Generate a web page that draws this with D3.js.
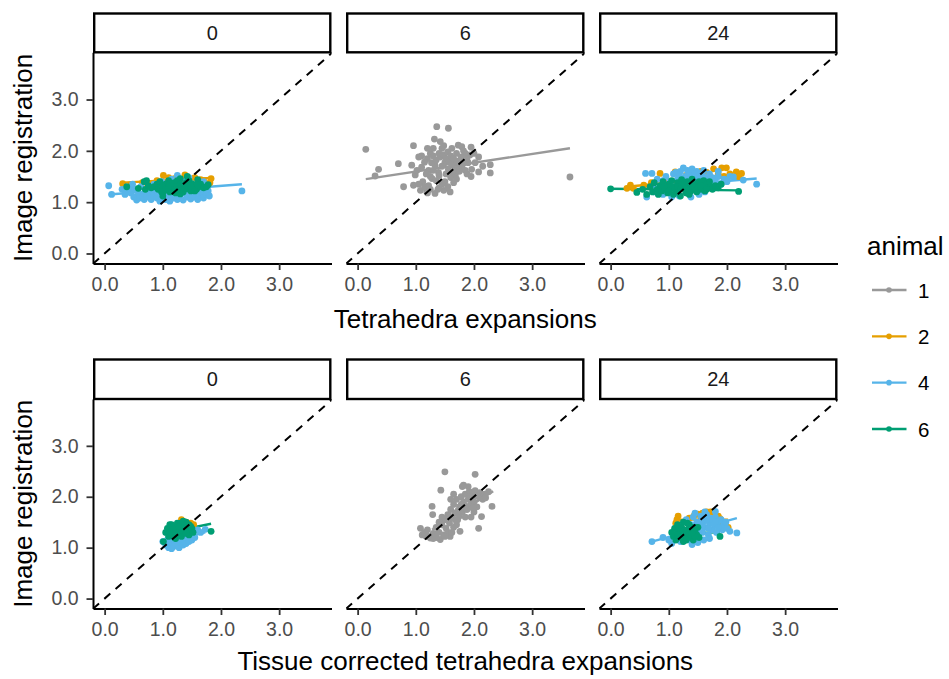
<!DOCTYPE html>
<html>
<head>
<meta charset="utf-8">
<script src="https://cdn.jsdelivr.net/npm/d3@7"></script>
<style>
  html, body { margin: 0; padding: 0; background: #ffffff; }
  svg { display: block; font-family: "Liberation Sans", Arial, sans-serif; }
</style>
</head>
<body>
<svg id="chart" width="949" height="679"></svg>
<script>
// ---- data -------------------------------------------------------------
const timepoints = ["0", "6", "24"];
const animals = ["1", "2", "4", "6"];
const animalColors = ["#999999", "#E69F00", "#56B4E9", "#009E73"];
const tickValues = [0, 1, 2, 3];
const rowTitles = ["Tetrahedra expansions", "Tissue corrected tetrahedra expansions"];
const yTitle = "Image registration";
const legendTitle = "animal";

// Tetrahedra expansions vs image registration, hour 0
const tet0_a2 = [[0.31,1.36],[0.45,1.33],[1.01,1.52],[1.38,1.53],[1.83,1.46],[1.81,1.38],[1.7,1.42],[1.2,1.46],[0.65,1.38],[1.55,1.48],[0.9,1.42],[1.45,1.45],[1.1,1.48],[1.65,1.44],[0.8,1.36],[1.3,1.45]];
const tet0_a4 = [[0.07,1.32],[0.12,1.15],[2.36,1.22],[0.38,1.22],[0.42,1.28],[0.45,1.18],[0.5,1.1],[0.52,1.25],[0.55,1.04],[0.58,1.15],[0.6,1.08],[0.62,1.3],[0.65,1.12],[0.68,1.05],[0.7,1.2],[0.72,1.1],[0.75,1.28],[0.78,1.15],[0.8,1.05],[0.82,1.22],[0.85,1.12],[0.88,1.3],[0.9,1.08],[0.92,1.18],[0.95,1.02],[0.97,1.25],[1.0,1.1],[1.02,1.35],[1.05,1.05],[1.08,1.2],[1.1,1.12],[1.12,1.02],[1.15,1.28],[1.18,1.08],[1.2,1.4],[1.22,1.15],[1.25,1.52],[1.25,1.05],[1.28,1.22],[1.3,1.1],[1.32,1.3],[1.35,1.04],[1.38,1.18],[1.4,1.42],[1.42,1.1],[1.45,1.25],[1.48,1.06],[1.5,1.15],[1.52,1.35],[1.55,1.1],[1.58,1.2],[1.6,1.05],[1.62,1.28],[1.65,1.12],[1.68,1.18],[1.7,1.08],[1.72,1.3],[1.75,1.15],[1.78,1.22],[1.8,1.12],[1.15,1.45],[0.98,1.4],[1.45,1.48],[0.85,1.35],[1.7,1.4],[0.48,1.35],[0.3,1.25],[0.35,1.15]];
const tet0_a6 = [[0.38,1.3],[0.58,1.27],[0.68,1.4],[0.72,1.42],[0.7,1.25],[0.75,1.32],[0.85,1.3],[0.9,1.35],[0.92,1.25],[0.95,1.4],[1.0,1.12],[1.0,1.3],[1.02,1.22],[1.05,1.35],[1.08,1.28],[1.1,1.42],[1.12,1.2],[1.15,1.32],[1.18,1.25],[1.2,1.38],[1.22,1.18],[1.25,1.3],[1.28,1.24],[1.3,1.46],[1.32,1.28],[1.35,1.2],[1.38,1.35],[1.4,1.26],[1.42,1.5],[1.45,1.3],[1.48,1.22],[1.5,1.36],[1.52,1.28],[1.55,1.32],[1.58,1.25],[1.6,1.44],[1.62,1.3],[1.65,1.35],[1.7,1.28],[1.75,1.3],[1.78,1.34],[1.15,1.22],[1.25,1.42],[0.98,1.2],[1.35,1.32],[1.45,1.42],[1.1,1.3],[1.3,1.16],[0.8,1.28],[1.55,1.22],[1.05,1.25],[1.2,1.3],[1.3,1.35],[1.4,1.38],[1.5,1.26],[1.6,1.34],[1.12,1.36],[1.38,1.28],[1.22,1.24],[1.48,1.32]];
const tet0_fit = [["2",0.31,1.38,1.83,1.47],["4",0.07,1.15,2.36,1.35],["6",0.38,1.26,1.78,1.34]];

// hour 6
const tet6_a1 = [[0.14,2.03],[0.36,1.64],[0.30,1.51],[0.70,1.75],[0.96,2.10],[1.36,2.47],[1.56,2.44],[1.32,2.23],[1.05,1.88],[1.10,1.90],[0.93,1.72],[0.99,1.53],[0.79,1.30],[0.96,1.33],[1.08,1.23],[1.19,1.20],[1.33,1.17],[1.48,1.23],[1.59,1.20],[1.50,1.40],[1.28,1.46],[1.68,1.53],[1.85,1.62],[2.08,1.59],[2.28,1.73],[2.28,1.57],[2.08,1.88],[1.93,1.92],[1.73,2.11],[1.79,2.08],[1.95,2.07],[3.65,1.49],[1.45,2.05],[1.50,1.77],[1.33,1.72],[1.66,1.77],[1.39,1.58],[1.56,1.64],[1.68,1.64],[1.79,1.70],[1.90,1.77],[1.27,1.77],[1.10,1.68],[1.22,1.62],[1.96,1.64],[2.02,1.77],[1.2,1.85],[1.25,1.95],[1.3,1.9],[1.35,1.82],[1.4,1.95],[1.42,1.88],[1.45,1.7],[1.48,1.92],[1.52,1.85],[1.55,1.98],[1.58,1.78],[1.6,1.9],[1.62,1.72],[1.65,1.85],[1.7,1.95],[1.72,1.8],[1.75,1.68],[1.78,1.88],[1.82,1.76],[1.85,1.95],[1.88,1.85],[1.15,1.78],[1.18,1.55],[1.25,1.5],[1.3,1.62],[1.35,1.42],[1.4,1.52],[1.45,1.35],[1.52,1.55],[1.6,1.48],[1.62,1.58],[1.7,1.45],[1.75,1.6],[1.12,1.4],[1.15,1.3],[1.22,1.32],[1.25,1.25],[1.4,1.28],[1.55,1.3],[1.05,1.35],[1.02,1.62],[1.3,2.05],[1.48,2.1],[1.62,2.05],[1.42,2.18],[1.2,2.05],[1.82,2.0],[2.0,1.95],[1.95,1.5],[1.88,1.55],[2.15,1.7],[1.2,1.18],[1.38,1.25],[1.65,1.38]];
const tet6_fit = [["1",0.14,1.45,3.65,2.05]];

// hour 24
const tet24_a2 = [[0.28,1.27],[0.39,1.27],[0.34,1.33],[0.85,1.56],[1.91,1.67],[1.99,1.67],[2.16,1.59],[2.25,1.56],[1.77,1.65],[1.48,1.56],[0.57,1.33],[1.11,1.59],[1.65,1.58],[1.85,1.55],[2.05,1.55],[1.95,1.5],[0.7,1.38],[1.3,1.52],[2.2,1.5],[1.55,1.6],[1.7,1.5],[0.95,1.45]];
const tet24_a4 = [[0.6,1.56],[0.71,1.56],[0.62,1.10],[2.51,1.35],[1.25,1.67],[2.11,1.49],[2.28,1.43],[0.75,1.2],[0.8,1.45],[0.85,1.3],[0.9,1.15],[0.95,1.5],[1.0,1.25],[1.02,1.4],[1.05,1.1],[1.08,1.55],[1.1,1.3],[1.15,1.45],[1.18,1.12],[1.2,1.6],[1.22,1.35],[1.28,1.5],[1.3,1.2],[1.32,1.62],[1.35,1.4],[1.38,1.1],[1.4,1.55],[1.45,1.3],[1.48,1.6],[1.5,1.45],[1.52,1.15],[1.55,1.55],[1.58,1.35],[1.6,1.5],[1.62,1.2],[1.65,1.42],[1.7,1.55],[1.72,1.3],[1.75,1.48],[1.8,1.4],[1.85,1.5],[1.9,1.35],[1.95,1.45],[2.0,1.4],[2.05,1.5],[1.4,1.65],[0.9,1.42],[1.12,1.58],[1.6,1.62],[1.85,1.6],[1.25,1.45],[1.35,1.52],[1.55,1.45],[1.7,1.45],[1.18,1.5],[1.45,1.55]];
const tet24_a6 = [[0.0,1.26],[2.2,1.21],[0.45,1.19],[0.62,1.15],[0.55,1.25],[0.68,1.3],[0.72,1.2],[0.75,1.38],[0.8,1.25],[0.82,1.15],[0.85,1.32],[0.88,1.22],[0.9,1.4],[0.95,1.28],[0.98,1.18],[1.0,1.35],[1.02,1.25],[1.05,1.42],[1.08,1.15],[1.1,1.3],[1.12,1.22],[1.15,1.38],[1.18,1.28],[1.2,1.12],[1.22,1.44],[1.25,1.25],[1.28,1.35],[1.3,1.18],[1.32,1.4],[1.35,1.3],[1.38,1.22],[1.4,1.45],[1.42,1.28],[1.45,1.36],[1.48,1.2],[1.5,1.32],[1.52,1.4],[1.55,1.25],[1.58,1.32],[1.6,1.42],[1.62,1.22],[1.65,1.35],[1.68,1.28],[1.7,1.4],[1.72,1.3],[1.75,1.25],[1.8,1.32],[1.85,1.28],[1.9,1.35],[1.15,1.2],[1.35,1.15],[0.92,1.3],[1.25,1.35],[1.45,1.28],[1.05,1.3],[1.15,1.3],[1.3,1.28],[1.4,1.34],[1.55,1.32],[1.65,1.25],[1.0,1.22],[1.2,1.26]];
const tet24_fit = [["2",0.28,1.30,2.25,1.52],["4",0.60,1.28,2.51,1.46],["6",0.0,1.26,2.2,1.23]];

// Tissue corrected tetrahedra expansions vs image registration, hour 0
const cor0_a2 = [[1.32,1.55],[1.53,1.45],[1.4,1.5],[1.2,1.42],[1.48,1.48]];
const cor0_a4 = [[1.05,1.05],[1.08,1.15],[1.1,1.0],[1.12,1.1],[1.15,1.2],[1.18,1.02],[1.2,1.12],[1.22,1.05],[1.25,1.18],[1.28,1.0],[1.3,1.1],[1.32,1.22],[1.35,1.05],[1.38,1.15],[1.4,1.08],[1.42,1.2],[1.45,1.12],[1.48,1.25],[1.5,1.15],[1.52,1.3],[1.55,1.2],[1.6,1.35],[1.65,1.3],[1.73,1.36],[1.1,1.25],[1.2,1.3],[1.35,1.35],[1.45,1.4],[1.0,1.12],[1.15,0.98]];
const cor0_a6 = [[1.01,1.12],[1.83,1.32],[1.05,1.3],[1.08,1.38],[1.1,1.22],[1.12,1.45],[1.15,1.32],[1.18,1.25],[1.2,1.4],[1.22,1.18],[1.25,1.35],[1.28,1.28],[1.3,1.48],[1.32,1.22],[1.35,1.4],[1.38,1.3],[1.4,1.5],[1.42,1.35],[1.45,1.25],[1.48,1.42],[1.5,1.38],[1.52,1.3],[1.15,1.45],[1.25,1.48],[1.35,1.52],[1.12,1.3],[1.2,1.2],[1.3,1.35],[1.4,1.28],[1.45,1.45],[1.18,1.36],[1.28,1.42],[1.38,1.44],[1.22,1.3]];
const cor0_fit = [["2",1.2,1.44,1.53,1.5],["4",1.0,1.1,1.73,1.3],["6",1.01,1.28,1.83,1.47]];

// hour 6
const cor6_a1 = [[1.50,2.49],[2.02,2.44],[1.43,2.13],[1.82,2.23],[2.31,1.81],[1.28,1.81],[1.29,1.65],[2.13,1.61],[2.08,1.38],[1.08,1.38],[1.11,1.25],[1.25,1.19],[1.42,1.16],[1.59,1.22],[1.76,1.32],[1.15,1.3],[1.2,1.35],[1.22,1.22],[1.3,1.28],[1.35,1.4],[1.35,1.2],[1.4,1.3],[1.45,1.45],[1.48,1.25],[1.5,1.55],[1.52,1.38],[1.55,1.65],[1.58,1.48],[1.6,1.75],[1.62,1.58],[1.65,1.85],[1.65,1.4],[1.68,1.68],[1.7,1.95],[1.72,1.55],[1.75,1.8],[1.78,2.0],[1.8,1.7],[1.82,1.9],[1.85,2.05],[1.88,1.75],[1.9,1.95],[1.92,2.1],[1.95,1.85],[1.98,2.02],[2.0,1.9],[2.02,2.12],[2.05,1.8],[2.08,2.0],[2.1,2.08],[2.15,1.95],[2.18,2.05],[2.2,1.98],[2.25,2.1],[1.6,1.95],[1.75,1.62],[1.85,1.6],[1.7,1.45],[1.55,1.3],[1.45,1.6],[1.9,2.2],[1.8,2.2],[2.0,1.7],[1.95,1.6],[1.65,2.05],[1.4,1.5],[1.18,1.22],[1.3,1.18],[1.5,1.22],[1.62,1.3],[1.72,1.72],[1.85,1.82],[1.98,1.78],[1.58,1.62],[1.68,1.55],[1.78,1.85],[1.92,2.0],[2.05,2.02]];
const cor6_fit = [["1",1.28,1.35,2.33,2.11]];

// hour 24
const cor24_a2 = [[1.14,1.55],[1.12,1.48],[1.16,1.62],[1.43,1.62],[1.5,1.66],[1.58,1.68],[1.65,1.7],[1.72,1.7],[1.78,1.67],[1.85,1.62],[1.88,1.57],[1.97,1.48],[2.02,1.4],[1.9,1.5],[1.35,1.58],[1.55,1.6]];
const cor24_a4 = [[0.71,1.12],[2.17,1.29],[2.05,1.32],[1.40,1.06],[1.80,1.71],[1.0,1.15],[1.05,1.08],[1.1,1.22],[1.2,1.12],[1.25,1.3],[1.3,1.18],[1.38,1.45],[1.4,1.25],[1.42,1.6],[1.45,1.35],[1.48,1.5],[1.5,1.2],[1.52,1.42],[1.55,1.62],[1.58,1.3],[1.6,1.52],[1.62,1.4],[1.65,1.65],[1.68,1.25],[1.7,1.48],[1.72,1.58],[1.75,1.35],[1.78,1.45],[1.8,1.6],[1.82,1.3],[1.85,1.52],[1.88,1.4],[1.9,1.55],[1.92,1.35],[1.95,1.45],[1.98,1.5],[2.0,1.38],[1.35,1.15],[1.5,1.1],[1.6,1.15],[1.7,1.18],[1.45,1.68],[1.62,1.7],[1.3,1.55],[1.2,1.42],[0.9,1.2],[1.55,1.5],[1.65,1.55],[1.75,1.55],[1.58,1.42],[1.68,1.38],[1.8,1.5],[1.5,1.32],[1.85,1.4]];
const cor24_a6 = [[1.88,1.22],[1.05,1.3],[1.08,1.22],[1.1,1.38],[1.12,1.15],[1.15,1.45],[1.18,1.28],[1.2,1.2],[1.22,1.4],[1.25,1.12],[1.28,1.35],[1.3,1.25],[1.32,1.48],[1.35,1.3],[1.38,1.2],[1.4,1.4],[1.42,1.15],[1.45,1.32],[1.48,1.25],[1.5,1.4],[1.52,1.2],[1.25,1.5],[1.15,1.35],[1.35,1.45],[1.45,1.22],[1.2,1.32],[1.3,1.15],[1.4,1.3],[1.25,1.25],[1.35,1.38],[1.45,1.4],[1.15,1.25]];
const cor24_fit = [["2",1.12,1.55,2.02,1.55],["4",0.71,1.12,2.17,1.58],["6",1.05,1.28,1.88,1.3]];

// ---- layout -----------------------------------------------------------
const svg = d3.select("#chart");
const colorScale = d3.scaleOrdinal().domain(animals).range(animalColors);
const panelLefts = [93, 346, 599];
const panelWidth = 238.5;
const rows = [
  { stripTop: 12.3, top: 52.3, bottom: 263.5, title: rowTitles[0], titleY: 328,
    panels: [
      { groups: [["2", tet0_a2], ["4", tet0_a4], ["6", tet0_a6]], fits: tet0_fit },
      { groups: [["1", tet6_a1]], fits: tet6_fit },
      { groups: [["2", tet24_a2], ["4", tet24_a4], ["6", tet24_a6]], fits: tet24_fit }
    ] },
  { stripTop: 358.3, top: 399, bottom: 608.5, title: rowTitles[1], titleY: 670,
    panels: [
      { groups: [["2", cor0_a2], ["4", cor0_a4], ["6", cor0_a6]], fits: cor0_fit },
      { groups: [["1", cor6_a1]], fits: cor6_fit },
      { groups: [["2", cor24_a2], ["4", cor24_a4], ["6", cor24_a6]], fits: cor24_fit }
    ] }
];
const xDomain = [-0.2, 3.9];
const yDomain = [-0.195, 3.92];
const fmt = d3.format(".1f");
const tickFont = 19.5;

rows.forEach((row, ri) => {
  const y = d3.scaleLinear().domain(yDomain).range([row.bottom, row.top]);
  row.panels.forEach((panel, pi) => {
    const left = panelLefts[pi];
    const x = d3.scaleLinear().domain(xDomain).range([left, left + panelWidth]);
    const clipId = `clip-${ri}-${pi}`;
    svg.append("clipPath").attr("id", clipId)
      .append("rect").attr("x", left).attr("y", row.top)
      .attr("width", panelWidth).attr("height", row.bottom - row.top);
    const g = svg.append("g").attr("clip-path", `url(#${clipId})`);

    // fitted regression lines per animal
    g.selectAll("line.fit").data(panel.fits).join("line")
      .attr("class", "fit")
      .attr("x1", d => x(d[1])).attr("y1", d => y(d[2]))
      .attr("x2", d => x(d[3])).attr("y2", d => y(d[4]))
      .attr("stroke", d => colorScale(d[0]))
      .attr("stroke-width", 2.4);

    // points
    panel.groups.forEach(([animal, pts]) => {
      g.append("g").selectAll("circle").data(pts).join("circle")
        .attr("cx", d => x(d[0])).attr("cy", d => y(d[1]))
        .attr("r", 3.4)
        .attr("fill", colorScale(animal));
    });

    // identity line
    const lo = Math.min(xDomain[0], yDomain[0]), hi = Math.max(xDomain[1], yDomain[1]);
    g.append("line")
      .attr("x1", x(lo)).attr("y1", y(lo))
      .attr("x2", x(hi)).attr("y2", y(hi))
      .attr("stroke", "#000").attr("stroke-width", 2)
      .attr("stroke-dasharray", "8,7");

    // x axis
    const xa = svg.append("g").attr("transform", `translate(0,${row.bottom})`)
      .call(d3.axisBottom(x).tickValues(tickValues).tickFormat(fmt).tickSize(6.5).tickSizeOuter(0).tickPadding(7));
    xa.select(".domain").attr("stroke", "#000").attr("stroke-width", 2);
    xa.selectAll(".tick line").attr("stroke", "#333").attr("stroke-width", 1.8);
    xa.selectAll(".tick text").attr("fill", "#4D4D4D").attr("font-size", tickFont)
      .attr("font-family", "Liberation Sans, Arial, sans-serif");

    // y axis only on the first column
    if (pi === 0) {
      const ya = svg.append("g").attr("transform", `translate(${left},0)`)
        .call(d3.axisLeft(y).tickValues(tickValues).tickFormat(fmt).tickSize(6.5).tickSizeOuter(0).tickPadding(8));
      ya.select(".domain").attr("stroke", "#000").attr("stroke-width", 2);
      ya.selectAll(".tick line").attr("stroke", "#333").attr("stroke-width", 1.8);
      ya.selectAll(".tick text").attr("fill", "#4D4D4D").attr("font-size", tickFont)
        .attr("font-family", "Liberation Sans, Arial, sans-serif");
    }

    // strip
    svg.append("rect")
      .attr("x", left + 1.2).attr("y", row.stripTop + 1.2)
      .attr("width", panelWidth - 2.4).attr("height", row.top - row.stripTop - 1.2)
      .attr("fill", "#fff").attr("stroke", "#000").attr("stroke-width", 2.4);
    svg.append("text")
      .attr("x", left + panelWidth / 2).attr("y", (row.stripTop + row.top) / 2 + 7.5)
      .attr("text-anchor", "middle").attr("font-size", 20).attr("fill", "#1A1A1A")
      .text(timepoints[pi]);
  });

  // axis titles for the row
  svg.append("text")
    .attr("x", (panelLefts[0] + panelLefts[2] + panelWidth) / 2).attr("y", row.titleY)
    .attr("text-anchor", "middle").attr("font-size", 26).attr("fill", "#000")
    .text(row.title);
  const cy = (row.top + row.bottom) / 2;
  svg.append("text")
    .attr("transform", `translate(31.5,${cy}) rotate(-90)`)
    .attr("text-anchor", "middle").attr("font-size", 26).attr("fill", "#000")
    .text(yTitle);
});

// ---- legend -----------------------------------------------------------
const legend = svg.append("g");
legend.append("text").attr("x", 867).attr("y", 255)
  .attr("font-size", 26).attr("fill", "#000").text(legendTitle);
const keyY = d3.scalePoint().domain(animals).range([290, 429]);
animals.forEach(a => {
  const ky = keyY(a);
  legend.append("line").attr("x1", 872).attr("x2", 906.5).attr("y1", ky).attr("y2", ky)
    .attr("stroke", colorScale(a)).attr("stroke-width", 2.4);
  legend.append("circle").attr("cx", 889).attr("cy", ky).attr("r", 2.8).attr("fill", colorScale(a));
  legend.append("text").attr("x", 918).attr("y", ky + 7.5)
    .attr("font-size", 20.5).attr("fill", "#000").text(a);
});
</script>
</body>
</html>
